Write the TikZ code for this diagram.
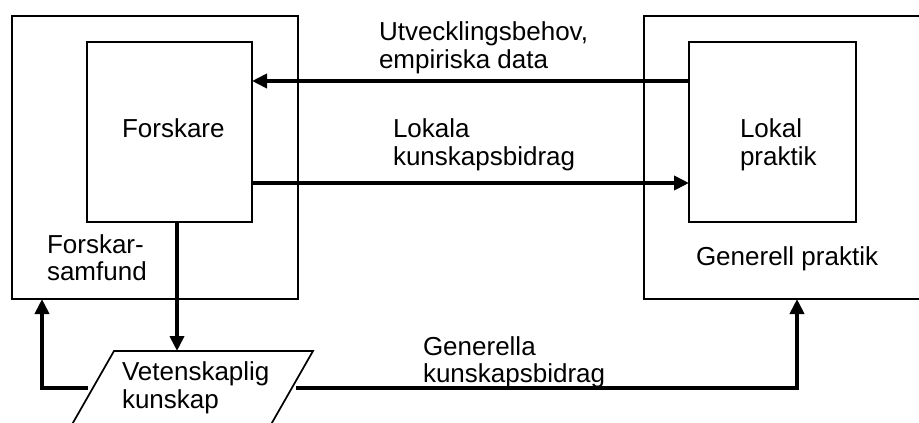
\documentclass[tikz,border=0pt]{standalone}
\usepackage{fontspec}
\setmainfont{Liberation Sans}
\usetikzlibrary{arrows.meta}
\begin{document}
\begin{tikzpicture}[x=1pt,y=-1pt,
  boxx/.style={draw,line width=1.7pt,inner sep=0,outer sep=0,anchor=north west},
  arr/.style={line width=4.8pt,-{Triangle[length=15pt,width=14pt]}},
  lbl/.style={anchor=base west,inner sep=0,outer sep=0,font=\fontsize{26}{29}\selectfont}]
\useasboundingbox (0,0) rectangle (919,423);
\clip (0,0) rectangle (919,423);
% boxes
\node[boxx,minimum width=286pt,minimum height=283pt] (ol) at (12,16) {};
\node[boxx,minimum width=306pt,minimum height=283pt] (or) at (644,16) {};
\node[boxx,minimum width=165pt,minimum height=180pt] (fo) at (87,42) {};
\node[boxx,minimum width=167pt,minimum height=180pt] (lp) at (689,42) {};
% parallelogram (Vetenskaplig kunskap), cut by the lower edge
\coordinate (vkTL) at (114,351);
\coordinate (vkTR) at (313,351);
\coordinate (vkBR) at (265,435);
\coordinate (vkBL) at (66,435);
\coordinate (vkN) at (213,351);
\coordinate (vkW) at (88,388);
\coordinate (vkE) at (296,388);
\draw[line width=1.7pt] (vkTL) -- (vkTR) -- (vkBR) -- (vkBL) -- cycle;
% texts
\node[lbl] (t1) at (122,137) {Forskare};
\node[lbl] (t2) at (47,253) {Forskar-};
\node[lbl] (t3) at (47,280) {samfund};
\node[lbl] (t4) at (740,137) {Lokal};
\node[lbl] (t5) at (740,165) {praktik};
\node[lbl] (t6) at (696,265) {Generell praktik};
\node[lbl] (t7) at (379,40) {Utvecklingsbehov,};
\node[lbl] (t8) at (379,68) {empiriska data};
\node[lbl] (t9) at (393,137) {Lokala};
\node[lbl] (t10) at (393,165) {kunskapsbidrag};
\node[lbl] (t11) at (423,355) {Generella};
\node[lbl] (t12) at (423,382) {kunskapsbidrag};
\node[lbl] (t13) at (122,380) {Vetenskaplig};
\node[lbl] (t14) at (122,408) {kunskap};
% connectors
\draw[arr] ([yshift=51pt]lp.west) -- ([yshift=51pt]fo.east);
\draw[arr] ([yshift=-51pt]fo.east) -- ([yshift=-51pt]lp.west);
\draw[arr] ([xshift=7.5pt]fo.south) -- ([xshift=7.5pt]fo.south |- vkN);
\draw[arr] (vkW) -| ([xshift=-113pt]ol.south);
\draw[arr] (vkE) -| (or.south);
\end{tikzpicture}
\end{document}
